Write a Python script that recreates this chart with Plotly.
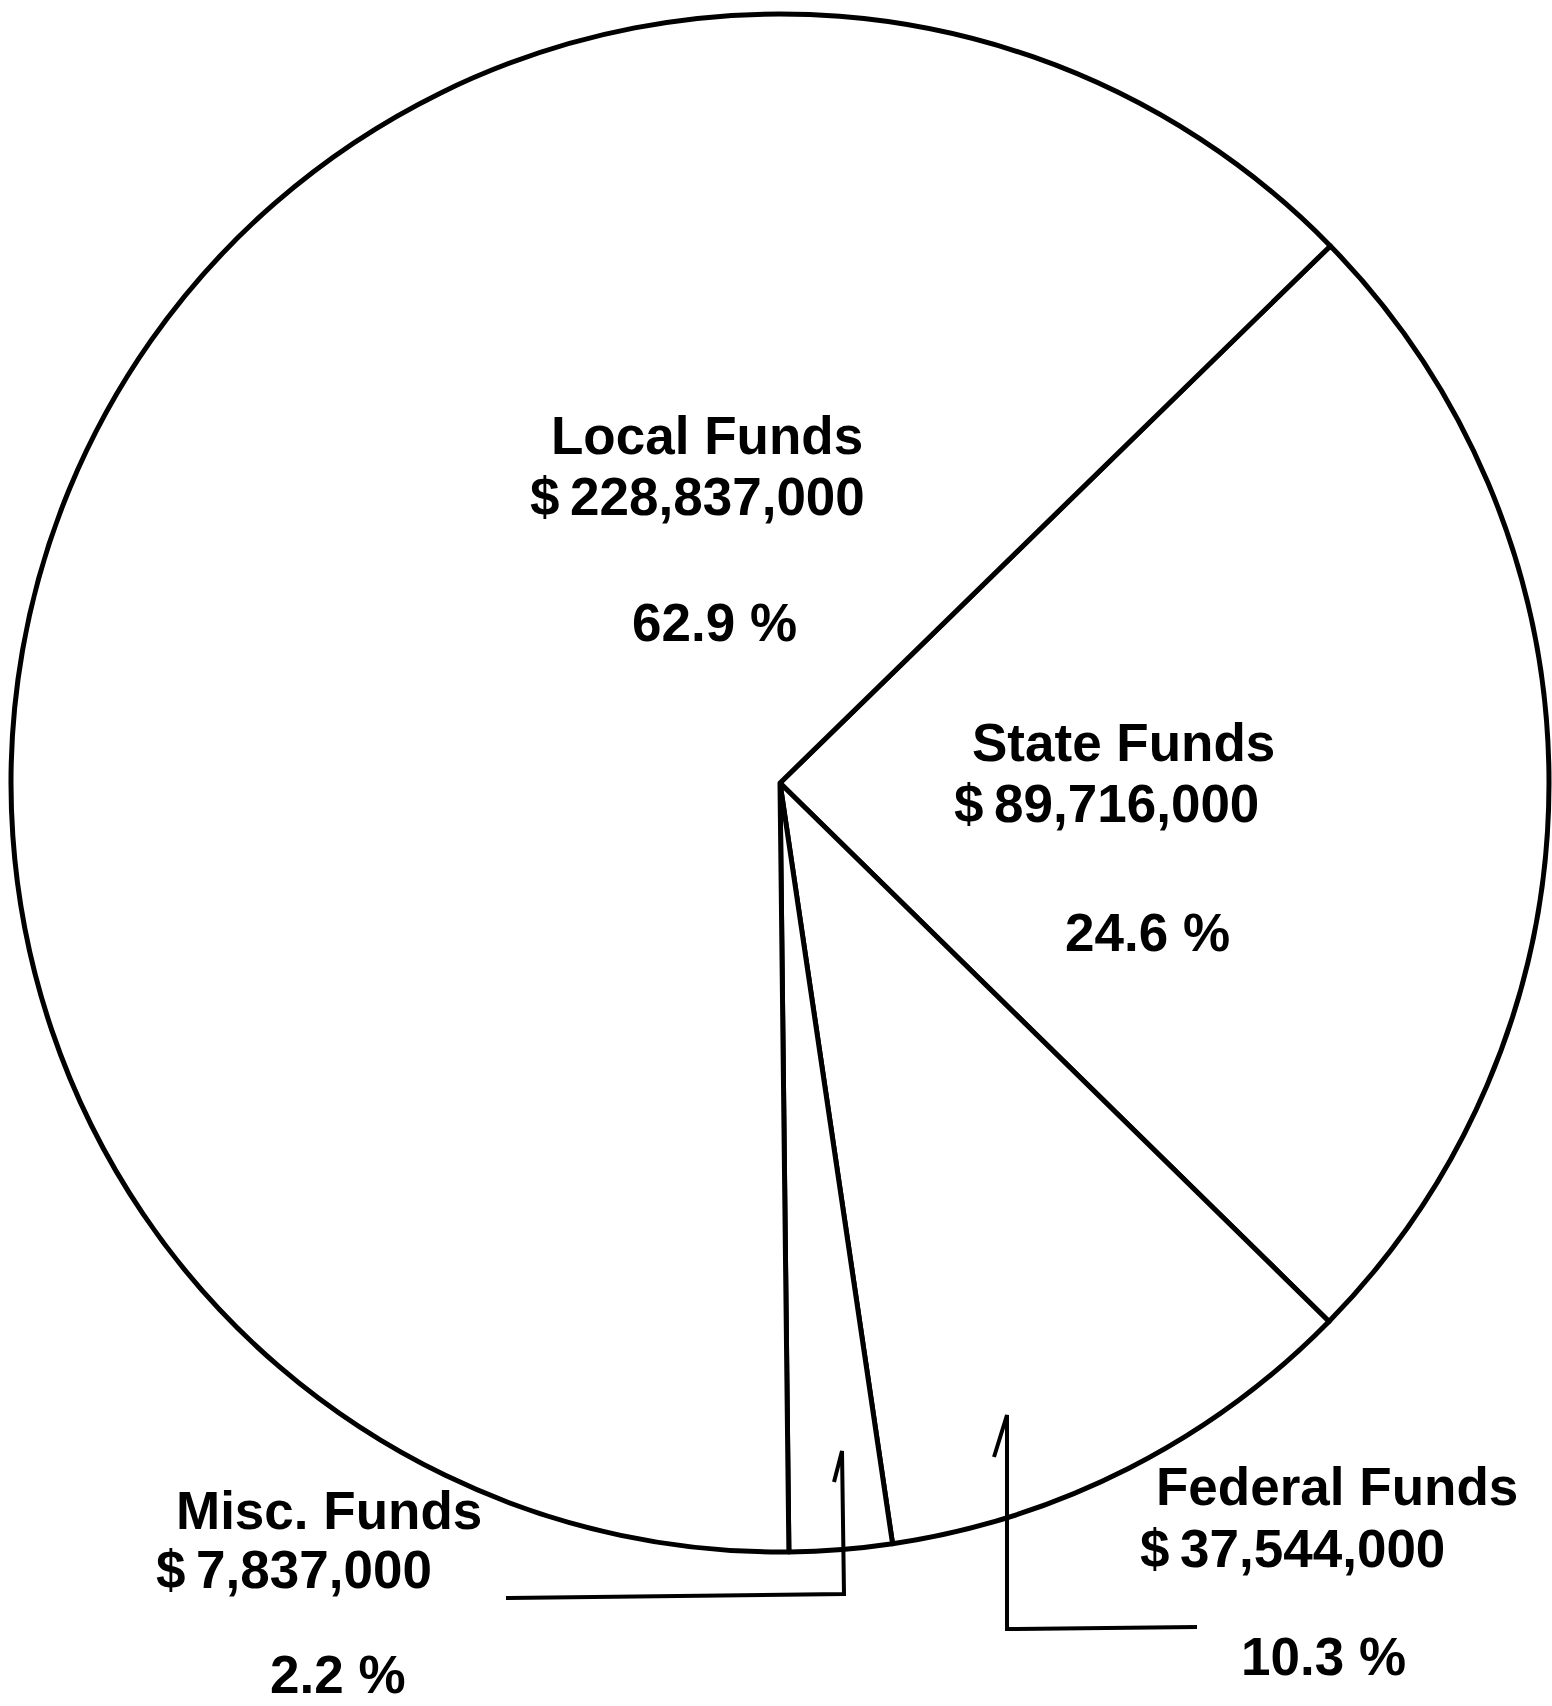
import plotly.graph_objects as go

W, H = 1552, 1706

# Data
categories = ["State Funds", "Federal Funds", "Misc. Funds", "Local Funds"]
values = [89716000, 37544000, 7837000, 228837000]
pct_labels = ["24.6 %", "10.3 %", "2.2 %", "62.9 %"]

# label anchor positions (pixels) for each category: name line, amount line, percent line
label_pos = {
    "State Funds":   [(1123, 742), (1106, 803), (1147, 933)],
    "Federal Funds": [(1337, 1486), (1292, 1548), (1323, 1656)],
    "Misc. Funds":   [(329, 1510), (294, 1569), (338, 1674)],
    "Local Funds":   [(707, 435), (697, 496), (714, 622)],
}

cx, cy, r = 780, 783, 769

def px(x):
    return x / W

def py(y):
    return 1 - y / H

fig = go.Figure()
fig.add_trace(go.Pie(
    labels=categories,
    values=values,
    sort=False,
    direction="clockwise",
    rotation=45.7,
    textinfo="none",
    hoverinfo="label+value+percent",
    marker=dict(colors=["white"] * len(categories), line=dict(color="black", width=5)),
    domain=dict(x=[px(cx - r), px(cx + r)], y=[py(cy + r), py(cy - r)]),
    showlegend=False,
))

font = dict(family="Liberation Sans, Arial, sans-serif", size=53, color="black")
for cat, val, pct in zip(categories, values, pct_labels):
    texts = [cat, "$\u2009" + f"{val:,}", pct]
    for (x, y), t in zip(label_pos[cat], texts):
        fig.add_annotation(x=px(x), y=py(y), xref="paper", yref="paper",
                           text="<b>" + t + "</b>", showarrow=False,
                           xanchor="center", yanchor="middle", font=font,
                           borderpad=0)

# leader lines (pixels)
leaders = [
    [(506, 1598), (844, 1594), (842, 1451), (834, 1482)],
    [(1197, 1627), (1007, 1629), (1007, 1415), (994, 1457)],
]
for pts in leaders:
    path = "M " + " L ".join(f"{px(x)},{py(y)}" for x, y in pts)
    fig.add_shape(type="path", path=path, xref="paper", yref="paper",
                  line=dict(color="black", width=4))

fig.update_layout(
    width=W, height=H,
    margin=dict(l=0, r=0, t=0, b=0),
    paper_bgcolor="white", plot_bgcolor="white",
)
fig.write_html("out.html")
